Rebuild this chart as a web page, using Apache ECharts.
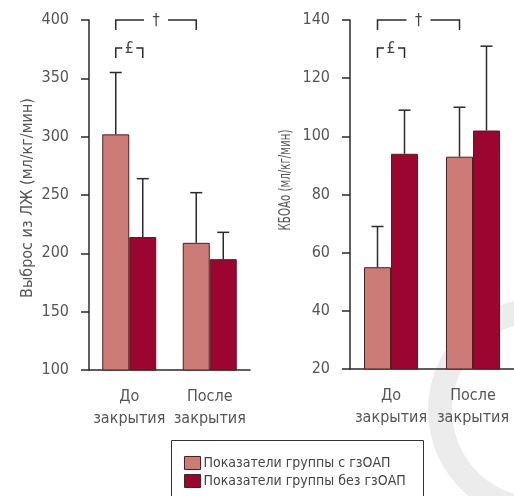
<!DOCTYPE html>
<html>
<head>
<meta charset="utf-8">
<script src="https://cdn.jsdelivr.net/npm/echarts@6/dist/echarts.min.js"></script>
<style>
  html, body { margin: 0; padding: 0; background: #fff; }
  #chart { width: 514px; height: 496px; }
</style>
</head>
<body>
<div id="chart"></div>
<script>
// Categories shared by both panels
const categories = ['До\nзакрытия', 'После\nзакрытия'];
const groupNames = ['Показатели группы с гзОАП', 'Показатели группы без гзОАП'];

// Left panel: LV output, mean and SD (upper whisker only)
const lvOutputWith = [302, 209];
const lvOutputWithSD = [53, 43];
const lvOutputWithout = [214, 195];
const lvOutputWithoutSD = [50, 23];

// Right panel: КБОАо, mean and SD
const kboaWith = [55, 93];
const kboaWithSD = [14, 17];
const kboaWithout = [94, 102];
const kboaWithoutSD = [15, 29];

// Significance brackets: [fromCategory, fromGroup, toCategory, toGroup, row, mark]
const leftMarks = [[0, 0, 1, 0, 0, '†'], [0, 0, 0, 1, 1, '£']];
const rightMarks = [[0, 0, 1, 0, 0, '†'], [0, 0, 0, 1, 1, '£']];

const FONT = '"Liberation Sans Narrow", "DejaVu Sans Condensed", "Liberation Sans", sans-serif';
const LIGHT = '#cd7b76';
const DARK = '#9c0530';
const EDGE = '#4a2222';
const INK = '#2a2a2a';
const BAR_W = 27;

const chart = echarts.init(document.getElementById('chart'), null, { renderer: 'canvas' });

function errorData(means, sds) {
  return means.map((m, i) => [i, m, m + sds[i]]);
}

function errorSeries(name, means, sds, side, axis) {
  return {
    type: 'custom',
    name: name + ' SD',
    xAxisIndex: axis, yAxisIndex: axis,
    z: 5,
    silent: true,
    data: errorData(means, sds),
    renderItem: function (params, api) {
      const base = api.coord([api.value(0), api.value(1)]);
      const top = api.coord([api.value(0), api.value(2)]);
      const x = base[0] + side * BAR_W / 2;
      const style = { stroke: INK, lineWidth: 1.5 };
      return {
        type: 'group',
        children: [
          { type: 'line', shape: { x1: x, y1: base[1], x2: x, y2: top[1] }, style: style },
          { type: 'line', shape: { x1: x - 6, y1: top[1], x2: x + 6, y2: top[1] }, style: style }
        ]
      };
    }
  };
}

function bracketSeries(marks, axis) {
  return {
    type: 'custom',
    xAxisIndex: axis, yAxisIndex: axis,
    z: 6,
    silent: true,
    clip: false,
    data: marks,
    renderItem: function (params, api) {
      const mark = marks[params.dataIndex];
      const side = g => (g === 0 ? -1 : 1) * BAR_W / 2;
      const x1 = api.coord([mark[0], 0])[0] + side(mark[1]);
      const x2 = api.coord([mark[2], 0])[0] + side(mark[3]);
      const y = params.coordSys.y + mark[4] * 28;
      const xm = (x1 + x2) / 2;
      const gap = mark[5] === '†' ? 12 : 7;
      const style = { stroke: INK, lineWidth: 1.5, fill: null };
      return {
        type: 'group',
        children: [
          { type: 'polyline', shape: { points: [[x1, y + 10], [x1, y], [xm - gap, y]] }, style: style },
          { type: 'polyline', shape: { points: [[xm + gap, y], [x2, y], [x2, y + 10]] }, style: style },
          { type: 'text', style: { x: xm, y: y + 1, text: mark[5], fill: '#444',
            font: '16px ' + FONT, align: 'center', verticalAlign: 'middle' } }
        ]
      };
    }
  };
}

function barSeries(name, data, color, axis) {
  return {
    type: 'bar',
    name: name,
    xAxisIndex: axis, yAxisIndex: axis,
    data: data,
    barWidth: BAR_W,
    barGap: '0%',
    itemStyle: { color: color, borderColor: EDGE, borderWidth: 1 },
    emphasis: { disabled: true }
  };
}

const axisText = { color: '#555', fontFamily: FONT, fontSize: 16 };

function xAxis(gridIndex) {
  return {
    type: 'category',
    gridIndex: gridIndex,
    data: categories,
    axisLine: { lineStyle: { color: INK, width: 1.5 } },
    axisTick: { length: 8, lineStyle: { color: INK, width: 1.5 } },
    axisLabel: Object.assign({ margin: 16, lineHeight: 22, interval: 0 }, axisText)
  };
}

function yAxis(gridIndex, min, max, step) {
  return {
    type: 'value',
    gridIndex: gridIndex,
    min: min, max: max, interval: step,
    splitLine: { show: false },
    axisLine: { show: true, lineStyle: { color: INK, width: 1.5 } },
    axisTick: { show: true, length: 8, lineStyle: { color: INK, width: 1.5 } },
    axisLabel: Object.assign({ margin: 20 }, axisText)
  };
}

chart.setOption({
  animation: false,
  backgroundColor: '#fff',
  grid: [
    { left: 89, top: 20, width: 161, height: 350 },
    { left: 350, top: 20, width: 166, height: 349 }
  ],
  xAxis: [xAxis(0), xAxis(1)],
  yAxis: [yAxis(0, 100, 400, 50), yAxis(1, 20, 140, 20)],
  legend: {
    orient: 'vertical',
    left: 179, top: 451,
    icon: 'rect',
    itemWidth: 16, itemHeight: 13, itemGap: 4,
    selectedMode: false,
    data: groupNames,
    itemStyle: { borderColor: EDGE, borderWidth: 1 },
    textStyle: { color: '#444', fontFamily: FONT, fontSize: 14, padding: [0, 0, 0, -2] }
  },
  graphic: [
    {
      type: 'arc', z: -10, silent: true,
      shape: { cx: 540, cy: 410, r: 100, startAngle: Math.PI * 0.55, endAngle: Math.PI * 1.55 },
      style: { stroke: '#ececec', lineWidth: 24, fill: null }
    },
    {
      type: 'rect', z: 1, silent: true,
      shape: { x: 171.5, y: 440.5, width: 252, height: 70 },
      style: { fill: '#fff', stroke: '#333', lineWidth: 1 }
    },
    {
      type: 'text', silent: true,
      x: 28, y: 198, rotation: Math.PI / 2,
      style: { text: 'Выброс из ЛЖ (мл/кг/мин)', fill: '#555', font: '16px ' + FONT,
        align: 'center', verticalAlign: 'middle' }
    },
    {
      // narrower title on the right panel
      type: 'text', silent: true,
      x: 286, y: 180, rotation: Math.PI / 2, scaleX: 0.76,
      style: { text: 'КБОАо (мл/кг/мин)', fill: '#555', font: '15px ' + FONT,
        align: 'center', verticalAlign: 'middle' }
    }
  ],
  series: [
    barSeries(groupNames[0], lvOutputWith, LIGHT, 0),
    barSeries(groupNames[1], lvOutputWithout, DARK, 0),
    errorSeries(groupNames[0], lvOutputWith, lvOutputWithSD, -1, 0),
    errorSeries(groupNames[1], lvOutputWithout, lvOutputWithoutSD, 1, 0),
    bracketSeries(leftMarks, 0),
    barSeries(groupNames[0], kboaWith, LIGHT, 1),
    barSeries(groupNames[1], kboaWithout, DARK, 1),
    errorSeries(groupNames[0], kboaWith, kboaWithSD, -1, 1),
    errorSeries(groupNames[1], kboaWithout, kboaWithoutSD, 1, 1),
    bracketSeries(rightMarks, 1)
  ]
});
</script>
</body>
</html>
